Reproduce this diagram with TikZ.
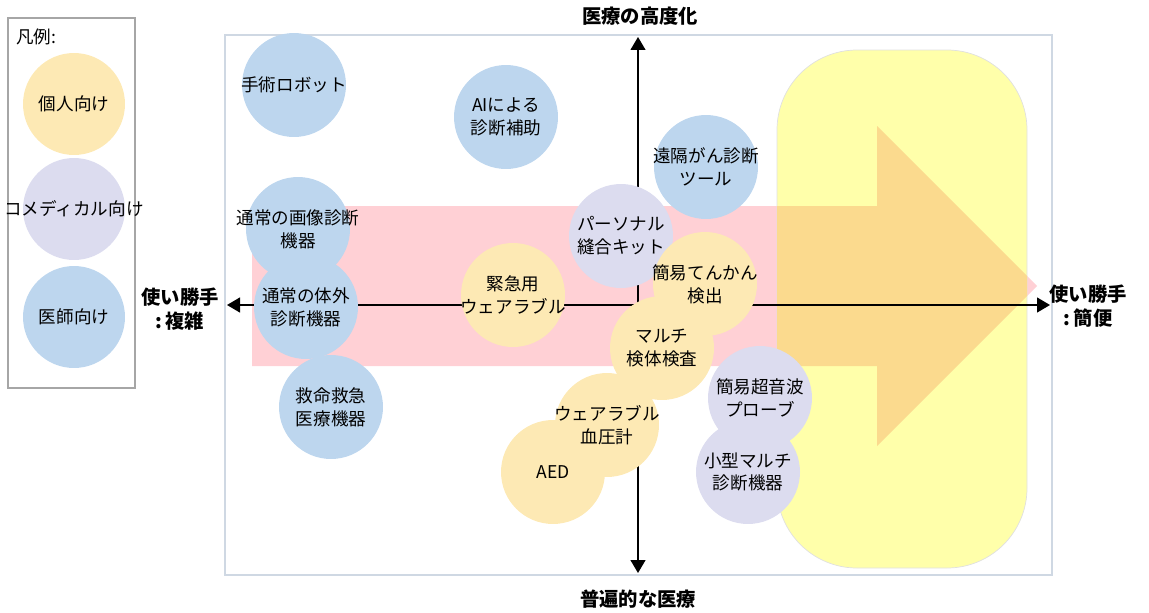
\documentclass[tikz,border=0pt]{standalone}
\usepackage{fontspec}
\newfontfamily\jp{Noto Sans CJK JP}
\usepackage{xcolor}
\usepackage{tikz}
\usetikzlibrary{arrows.meta}
\usetikzlibrary{calc}
\usetikzlibrary{positioning}

\definecolor{docblue}{HTML}{BDD6EE}
\definecolor{comedlilac}{HTML}{DCDCEF}
\definecolor{selfpeach}{HTML}{FDE9B4}
\definecolor{trendpink}{HTML}{FFD0D5}
\definecolor{easyyellow}{HTML}{FFFFAA}
\definecolor{mixorange}{HTML}{FBDA8E}
\definecolor{framegray}{HTML}{CFD8E3}

\begin{document}
\begin{tikzpicture}[x=0.02cm,y=-0.02cm,font=\jp\fontsize{10}{13}\selectfont]
  \tikzstyle{item}=[circle, minimum size=2.08cm, inner sep=0pt]
  \tikzstyle{key}=[circle, minimum size=2.04cm, inner sep=0pt]
  \tikzstyle{tag}=[align=center, inner sep=0pt]
  \tikzstyle{axislbl}=[align=center, inner sep=0pt, font=\jp\bfseries\fontsize{11}{13.6}\selectfont]
  \tikzstyle{axis}=[line width=0.7pt, {Triangle[length=2.6mm,width=3mm]}-{Triangle[length=2.6mm,width=3mm]}]
  \def\trendarrow{(252,206) -- (877,206) -- (877,126) -- (1037,286) -- (877,446) -- (877,366) -- (252,366) -- cycle}
  \def\easybox{(777,50) rectangle (1027,568)}
  \useasboundingbox (0,0) rectangle (1149,612);

  % legend
  \draw[gray!70, line width=0.7pt] (8,18) rectangle (135,388);
  \node[anchor=west, inner sep=0pt, font=\jp\fontsize{10}{12}\selectfont] (legend) at (16,37) {凡例:};
  \node[key, fill=selfpeach, label={[tag]center:個人向け}] (keyself) at (74,104) {};
  \node[key, fill=comedlilac, label={[tag]center:コメディカル向け}] (keycomed) at (74,209) {};
  \node[key, fill=docblue, label={[tag]center:医師向け}] (keydoc) at (74,317) {};

  % frame, trend arrow and target zone
  \draw[framegray, line width=0.9pt] (225,35) rectangle (1052,575);
  \fill[trendpink] \trendarrow;
  \filldraw[fill=easyyellow, draw=black!12, rounded corners=1.6cm] \easybox;
  \begin{scope}
    \clip[rounded corners=1.6cm] \easybox;
    \fill[mixorange] \trendarrow;
  \end{scope}

  % axes
  \coordinate (north) at (638,37);
  \coordinate (south) at (638,573);
  \coordinate (west) at (227,305);
  \coordinate (east) at (1050,305);
  \draw[axis] (south) -- (north);
  \draw[axis] (west) -- (east);
  \node[axislbl] (advanced) at (640,16) {医療の高度化};
  \node[axislbl] (common) at (638,599) {普遍的な医療};
  \node[axislbl] (complex) at (180,309) {使い勝手\\:\,複雑};
  \node[axislbl] (simple) at (1088,306) {使い勝手\\:\,簡便};

  % devices
  \node[item, fill=docblue, label={[tag]center:手術ロボット}] (robot) at (294,85) {};
  \node[item, fill=docblue, label={[tag]center:{AIによる\\診断補助}}] (aidiag) at (506,117) {};
  \node[item, fill=docblue, label={[tag]center:{遠隔がん診断\\ツール}}] (remote) at (706,167) {};
  \node[item, fill=docblue] (imaging) at (298,229) {};
  \node[item, fill=docblue] (invitro) at (306,307) {};
  \node[tag] (imagingtxt) at (imaging) {通常の画像診断\\機器};
  \node[tag] (invitrotxt) at (invitro) {通常の体外\\診断機器};
  \node[item, fill=docblue, label={[tag]center:{救命救急\\医療機器}}] (rescue) at (331,407) {};
  \node[item, fill=comedlilac, label={[tag]center:{パーソナル\\縫合キット}}] (suture) at (621,236) {};
  \node[item, fill=selfpeach, label={[tag]center:{緊急用\\ウェアラブル}}] (emergency) at (513,295) {};
  \node[item, fill=selfpeach, label={[tag]center:{簡易てんかん\\検出}}] (epilepsy) at (705,284) {};
  \node[item, fill=selfpeach, label={[tag]center:{マルチ\\検体検査}}] (multisample) at (662,348) {};
  \node[item, fill=selfpeach] (aed) at (553,472) {};
  \node[item, fill=selfpeach] (bloodpress) at (607,425) {};
  \node[tag] (aedtxt) at (aed) {AED};
  \node[tag] (bloodpresstxt) at (bloodpress) {ウェアラブル\\血圧計};
  \node[item, fill=comedlilac] (ultrasound) at (760,398) {};
  \node[item, fill=comedlilac] (minimulti) at (748,472) {};
  \node[tag] (ultrasoundtxt) at (ultrasound) {簡易超音波\\プローブ};
  \node[tag] (minimultitxt) at (minimulti) {小型マルチ\\診断機器};
\end{tikzpicture}
\end{document}
